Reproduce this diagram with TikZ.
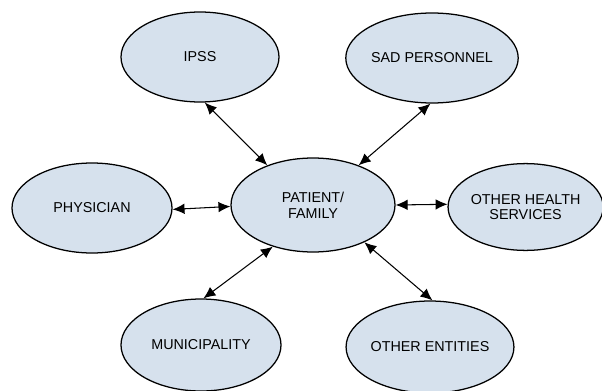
\documentclass[tikz,border=0pt]{standalone}
\usepackage{fontspec}
\setmainfont{Liberation Sans}
\usetikzlibrary{shapes.geometric,arrows.meta}

\definecolor{azulclaro}{RGB}{214,225,237}

\tikzset{
    elipse/.style={ellipse, draw=black, line width=0.9pt, fill=azulclaro,
        inner sep=0pt, minimum width=4cm, minimum height=2.25cm,
        align=center, font=\fontsize{10.2}{11.2}\selectfont},
    flecha/.style={line width=0.75pt, {Latex[length=8.5pt,width=7.5pt]}-{Latex[length=8.5pt,width=7.5pt]}}
}

\begin{document}
\begin{tikzpicture}

    \useasboundingbox (0,0) rectangle (15.05,9.75);

    % nodo central
    \node[elipse, minimum width=4.1cm, minimum height=2.35cm] (pf) at (7.825,4.625) {PATIENT/\\FAMILY};

    % nodos de arriba
    \node[elipse, minimum width=3.95cm] (ipss) at (5.0,8.325) {IPSS};
    \node[elipse, minimum width=4.05cm] (sad) at (10.8,8.3) {SAD PERSONNEL};

    % nodos laterales
    \node[elipse] (phys) at (2.3,4.55) {PHYSICIAN};
    \node[elipse, minimum width=3.75cm, minimum height=2.17cm] (ohs) at (13.14,4.575) {OTHER HEALTH\\SERVICES};

    % nodos de abajo
    \node[elipse, minimum height=2.3cm] (mun) at (5.025,1.125) {MUNICIPALITY};
    \node[elipse, minimum height=2.3cm] (ent) at (10.75,1.075) {OTHER ENTITIES};

    % flechas
    \draw[flecha] (ipss.-84) -- (pf.139);
    \draw[flecha] (sad.-92) -- (pf.41);
    \draw[flecha] (phys.-1.5) -- (pf.181);
    \draw[flecha] (pf.0) -- (ohs.178);
    \draw[flecha] (mun.87) -- (pf.-134);
    \draw[flecha] (pf.-36) -- (ent.87);

\end{tikzpicture}
\end{document}
